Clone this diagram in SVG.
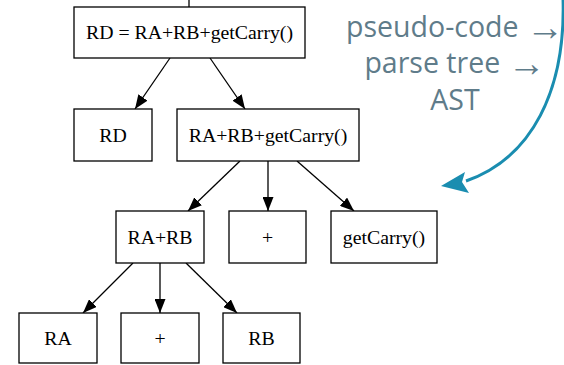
<svg xmlns="http://www.w3.org/2000/svg" width="564" height="365" viewBox="0 0 564 365">
<style>
.box{fill:#fff;stroke:#000;stroke-width:1.3}
.lbl{font-family:"Liberation Serif","Times New Roman",serif;font-size:19.8px;fill:#000;text-anchor:middle}
.edge{stroke:#000;stroke-width:1.3;fill:none;marker-end:url(#ah)}
.note{font-family:"Open Sans","Noto Sans","DejaVu Sans",sans-serif;font-size:28.5px;fill:#5f7c8a;text-anchor:middle}
.arr{font-family:"Liberation Serif","DejaVu Sans",serif;font-size:38px}
</style>
<defs>
<marker id="ah" viewBox="0 0 14 11" refX="14" refY="5.5" markerWidth="14" markerHeight="11" markerUnits="userSpaceOnUse" orient="auto">
<path d="M0,0 L14,5.5 L0,11 Z" fill="#000"/>
</marker>
</defs>
<rect width="564" height="365" fill="#fff"/>
<g id="connectors">
<line x1="189" y1="0" x2="189" y2="7" stroke="#000" stroke-width="1.3"/>
<line class="edge" x1="170" y1="58" x2="135" y2="109"/>
<line class="edge" x1="210" y1="58" x2="245" y2="109"/>
<line class="edge" x1="240" y1="161" x2="188" y2="211"/>
<line class="edge" x1="268" y1="161" x2="268" y2="211"/>
<line class="edge" x1="297" y1="161" x2="354" y2="211"/>
<line class="edge" x1="133" y1="263" x2="83" y2="313"/>
<line class="edge" x1="160" y1="263" x2="160" y2="313"/>
<line class="edge" x1="186" y1="263" x2="237" y2="313"/>
</g>
<g id="n-root"><rect class="box" x="74" y="7" width="231" height="51"/><text class="lbl" x="189.5" y="39">RD = RA+RB+getCarry()</text></g>
<g id="n-rd"><rect class="box" x="74" y="109" width="78" height="52"/><text class="lbl" x="113" y="141.5">RD</text></g>
<g id="n-expr"><rect class="box" x="177" y="109" width="182" height="52"/><text class="lbl" x="268" y="141.5">RA+RB+getCarry()</text></g>
<g id="n-rarb"><rect class="box" x="116" y="211" width="88" height="52"/><text class="lbl" x="160" y="243.5">RA+RB</text></g>
<g id="n-plus1"><rect class="box" x="229" y="211" width="77" height="52"/><text class="lbl" x="267.5" y="243.5">+</text></g>
<g id="n-carry"><rect class="box" x="331" y="211" width="106" height="52"/><text class="lbl" x="384" y="243.5">getCarry()</text></g>
<g id="n-ra"><rect class="box" x="19" y="313" width="78" height="50"/><text class="lbl" x="58" y="344.5">RA</text></g>
<g id="n-plus2"><rect class="box" x="121" y="313" width="78" height="50"/><text class="lbl" x="160" y="344.5">+</text></g>
<g id="n-rb"><rect class="box" x="223" y="313" width="77" height="50"/><text class="lbl" x="261.5" y="344.5">RB</text></g>
<g id="annotation">
<text class="note" x="455" y="37">pseudo-code <tspan class="arr" dy="3">→</tspan></text>
<text class="note" x="455" y="73">parse tree <tspan class="arr" dy="3">→</tspan></text>
<text class="note" x="455" y="110">AST</text>
<path d="M563,-2 C566,90 532,158 466,181" fill="none" stroke="#1a8db0" stroke-width="3"/>
<polygon points="441,186 465,172 462,182 469,193" fill="#1a8db0"/>
</g>
</svg>
